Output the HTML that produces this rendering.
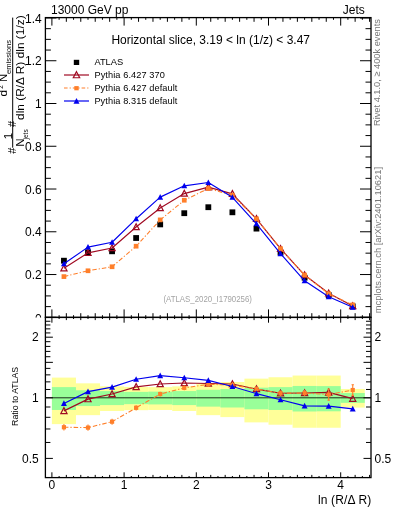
<!DOCTYPE html>
<html><head><meta charset="utf-8"><style>
html,body{margin:0;padding:0;background:#fff;}
svg{display:block;will-change:transform;}
text{font-family:"Liberation Sans",sans-serif;}
</style></head><body>
<svg width="393" height="512" viewBox="0 0 393 512">
<defs>
<clipPath id="cm"><rect x="45.4" y="17.6" width="325.60" height="299.80"/></clipPath>
<clipPath id="cr"><rect x="45.4" y="317.4" width="325.60" height="160.20"/></clipPath>
<clipPath id="ctop"><rect x="0" y="0" width="393" height="317.4"/></clipPath>
</defs>
<rect width="393" height="512" fill="#fff"/>
<g clip-path="url(#ctop)">
<text x="41.8" y="322.70" font-size="12" text-anchor="end">0</text>
<text x="41.8" y="279.14" font-size="12" text-anchor="end">0.2</text>
<text x="41.8" y="236.38" font-size="12" text-anchor="end">0.4</text>
<text x="41.8" y="193.62" font-size="12" text-anchor="end">0.6</text>
<text x="41.8" y="150.86" font-size="12" text-anchor="end">0.8</text>
<text x="41.8" y="108.10" font-size="12" text-anchor="end">1</text>
<text x="41.8" y="65.34" font-size="12" text-anchor="end">1.2</text>
<text x="41.8" y="22.58" font-size="12" text-anchor="end">1.4</text>
</g>
<text x="51" y="14.2" font-size="12">13000 GeV pp</text>
<text x="364.8" y="14.2" font-size="12" text-anchor="end">Jets</text>
<text x="111.4" y="43.8" font-size="12" textLength="198.6" lengthAdjust="spacingAndGlyphs">Horizontal slice, 3.19 &lt; ln (1/z) &lt; 3.47</text>
<!-- legend -->
<rect x="73.8" y="59.8" width="5.4" height="5.2" fill="#000"/>
<text x="94.4" y="64.9" font-size="9.3">ATLAS</text>
<line x1="64" y1="75.0" x2="89" y2="75.0" stroke="#a00a22" stroke-width="1.2"/>
<path d="M76.50,71.66 L79.70,77.74 L73.30,77.74 Z" fill="none" stroke="#a00a22" stroke-width="1.2"/>
<text x="94.4" y="77.7" font-size="9.2" textLength="70.5" lengthAdjust="spacing">Pythia 6.427 370</text>
<line x1="64" y1="88.0" x2="89" y2="88.0" stroke="#ff7f2a" stroke-width="1.1" stroke-dasharray="3.6 2 1.2 2"/>
<rect x="74.3" y="86.1" width="4.4" height="4.2" fill="#ff7f2a"/>
<text x="94.4" y="90.7" font-size="9.2" textLength="83.0" lengthAdjust="spacing">Pythia 6.427 default</text>
<line x1="64" y1="101.0" x2="89" y2="101.0" stroke="#0000ee" stroke-width="1.2"/>
<path d="M76.50,98.06 L79.50,103.77 L73.50,103.77 Z" fill="#0000ee"/>
<text x="94.4" y="103.7" font-size="9.2" textLength="83.0" lengthAdjust="spacing">Pythia 8.315 default</text>
<text x="163.4" y="301.6" font-size="8.6" fill="#a4a4a4" textLength="88.6" lengthAdjust="spacingAndGlyphs">(ATLAS_2020_I1790256)</text>
<!-- y title -->
<g transform="translate(24,120) rotate(-90)">
<text x="0" y="0" font-size="11.8" textLength="104.7" lengthAdjust="spacingAndGlyphs">dln (R/&#916; R) dln (1/z)</text>
</g>
<g transform="translate(7,96.4) rotate(-90)"><text x="0" y="0" font-size="11.8">d</text></g>
<g transform="translate(3.2,88.7) rotate(-90)"><text x="0" y="0" font-size="6.5">2</text></g>
<g transform="translate(7,81.9) rotate(-90)"><text x="0" y="0" font-size="11.3">N</text></g>
<g transform="translate(11.1,74) rotate(-90)"><text x="0" y="0" font-size="8" textLength="34" lengthAdjust="spacingAndGlyphs">emissions</text></g>
<line x1="12.7" y1="17.6" x2="12.7" y2="147.7" stroke="#000" stroke-width="1"/>
<g transform="translate(16.3,127) rotate(-90)"><text x="0" y="0" font-size="11" textLength="5">#</text></g>
<g transform="translate(16.3,153.8) rotate(-90)"><text x="0" y="0" font-size="11" textLength="5.1">#</text></g>
<g transform="translate(11.5,139.3) rotate(-90)"><text x="0" y="0" font-size="11.5">1</text></g>
<g transform="translate(24,146.8) rotate(-90)"><text x="0" y="0" font-size="11.5">N</text></g>
<g transform="translate(27.8,139.5) rotate(-90)"><text x="0" y="0" font-size="7" textLength="10.2" lengthAdjust="spacingAndGlyphs">jets</text></g>
<!-- right rotated -->
<g transform="translate(380.4,126) rotate(-90)"><text x="0" y="0" font-size="9.3" fill="#777" textLength="106.9" lengthAdjust="spacingAndGlyphs">Rivet 4.1.0, &#8805; 400k events</text></g>
<g transform="translate(380.8,313.2) rotate(-90)"><text x="0" y="0" font-size="9.3" fill="#777" textLength="146.2" lengthAdjust="spacingAndGlyphs">mcplots.cern.ch [arXiv:2401.10621]</text></g>
<rect x="45.4" y="317.4" width="325.60" height="160.20" fill="#fff"/>
<rect x="51.90" y="377.59" width="24.07" height="46.53" fill="#ffff99"/>
<rect x="75.97" y="383.33" width="24.07" height="31.82" fill="#ffff99"/>
<rect x="100.03" y="386.34" width="24.07" height="24.64" fill="#ffff99"/>
<rect x="124.10" y="386.96" width="24.07" height="23.22" fill="#ffff99"/>
<rect x="148.17" y="387.11" width="24.07" height="22.86" fill="#ffff99"/>
<rect x="172.23" y="386.34" width="24.07" height="24.64" fill="#ffff99"/>
<rect x="196.30" y="383.33" width="24.07" height="31.82" fill="#ffff99"/>
<rect x="220.37" y="382.01" width="24.07" height="35.08" fill="#ffff99"/>
<rect x="244.43" y="378.64" width="24.07" height="43.73" fill="#ffff99"/>
<rect x="268.50" y="377.25" width="24.07" height="47.47" fill="#ffff99"/>
<rect x="292.57" y="375.54" width="24.07" height="52.21" fill="#ffff99"/>
<rect x="316.63" y="375.54" width="24.07" height="52.21" fill="#ffff99"/>
<rect x="340.70" y="388.99" width="24.07" height="18.60" fill="#ffff99"/>
<rect x="51.90" y="387.11" width="24.07" height="22.86" fill="#99ff99"/>
<rect x="75.97" y="390.27" width="24.07" height="15.78" fill="#99ff99"/>
<rect x="100.03" y="391.07" width="24.07" height="14.02" fill="#99ff99"/>
<rect x="124.10" y="391.88" width="24.07" height="12.26" fill="#99ff99"/>
<rect x="148.17" y="391.64" width="24.07" height="12.79" fill="#99ff99"/>
<rect x="172.23" y="391.07" width="24.07" height="14.02" fill="#99ff99"/>
<rect x="196.30" y="389.79" width="24.07" height="16.84" fill="#99ff99"/>
<rect x="220.37" y="389.07" width="24.07" height="18.43" fill="#99ff99"/>
<rect x="244.43" y="387.66" width="24.07" height="21.62" fill="#99ff99"/>
<rect x="268.50" y="387.11" width="24.07" height="22.86" fill="#99ff99"/>
<rect x="292.57" y="385.96" width="24.07" height="25.53" fill="#99ff99"/>
<rect x="316.63" y="386.11" width="24.07" height="25.18" fill="#99ff99"/>
<rect x="340.70" y="393.04" width="24.07" height="9.80" fill="#99ff99"/>
<line x1="45.4" y1="397.80" x2="371.0" y2="397.80" stroke="#1a2e1a" stroke-width="1.0"/>
<g clip-path="url(#cr)">
<polyline points="63.93,410.88 88.00,399.12 112.07,394.04 136.13,386.88 160.20,384.00 184.27,383.03 208.33,383.48 232.40,384.00 256.47,389.07 280.53,393.20 304.60,393.04 328.67,392.38 352.73,398.68" fill="none" stroke="#a00a22" stroke-width="1.15" stroke-linejoin="round"/>
<path d="M63.93,407.64 L67.03,413.53 L60.83,413.53 Z" fill="none" stroke="#a00a22" stroke-width="1.2"/>
<path d="M88.00,395.88 L91.10,401.77 L84.90,401.77 Z" fill="none" stroke="#a00a22" stroke-width="1.2"/>
<path d="M112.07,390.80 L115.17,396.69 L108.97,396.69 Z" fill="none" stroke="#a00a22" stroke-width="1.2"/>
<path d="M136.13,383.64 L139.23,389.53 L133.03,389.53 Z" fill="none" stroke="#a00a22" stroke-width="1.2"/>
<path d="M160.20,380.76 L163.30,386.65 L157.10,386.65 Z" fill="none" stroke="#a00a22" stroke-width="1.2"/>
<path d="M184.27,379.79 L187.37,385.68 L181.17,385.68 Z" fill="none" stroke="#a00a22" stroke-width="1.2"/>
<path d="M208.33,380.24 L211.43,386.13 L205.23,386.13 Z" fill="none" stroke="#a00a22" stroke-width="1.2"/>
<path d="M232.40,380.76 L235.50,386.65 L229.30,386.65 Z" fill="none" stroke="#a00a22" stroke-width="1.2"/>
<path d="M256.47,385.83 L259.57,391.72 L253.37,391.72 Z" fill="none" stroke="#a00a22" stroke-width="1.2"/>
<path d="M280.53,389.96 L283.63,395.85 L277.43,395.85 Z" fill="none" stroke="#a00a22" stroke-width="1.2"/>
<path d="M304.60,389.80 L307.70,395.69 L301.50,395.69 Z" fill="none" stroke="#a00a22" stroke-width="1.2"/>
<path d="M328.67,389.14 L331.77,395.03 L325.57,395.03 Z" fill="none" stroke="#a00a22" stroke-width="1.2"/>
<path d="M352.73,395.44 L355.83,401.33 L349.63,401.33 Z" fill="none" stroke="#a00a22" stroke-width="1.2"/>
<polyline points="63.93,427.25 88.00,427.62 112.07,421.68 136.13,407.79 160.20,394.04 184.27,387.89 208.33,384.37 232.40,384.97 256.47,389.07 280.53,393.20 304.60,393.04 328.67,394.54 352.73,390.03" fill="none" stroke="#ff7f2a" stroke-width="1.1" stroke-dasharray="4.5 2 1.2 2" stroke-linejoin="round"/>
<path d="M63.93,424.05V430.45" stroke="#ff7f2a" stroke-width="1.1"/>
<rect x="61.83" y="425.15" width="4.20" height="4.20" fill="#ff7f2a"/>
<path d="M88.00,424.42V430.82" stroke="#ff7f2a" stroke-width="1.1"/>
<rect x="85.90" y="425.52" width="4.20" height="4.20" fill="#ff7f2a"/>
<path d="M112.07,418.68V424.68" stroke="#ff7f2a" stroke-width="1.1"/>
<rect x="109.97" y="419.58" width="4.20" height="4.20" fill="#ff7f2a"/>
<path d="M136.13,405.19V410.39" stroke="#ff7f2a" stroke-width="1.1"/>
<rect x="134.03" y="405.69" width="4.20" height="4.20" fill="#ff7f2a"/>
<path d="M160.20,391.64V396.44" stroke="#ff7f2a" stroke-width="1.1"/>
<rect x="158.10" y="391.94" width="4.20" height="4.20" fill="#ff7f2a"/>
<path d="M184.27,385.49V390.29" stroke="#ff7f2a" stroke-width="1.1"/>
<rect x="182.17" y="385.79" width="4.20" height="4.20" fill="#ff7f2a"/>
<path d="M208.33,381.97V386.77" stroke="#ff7f2a" stroke-width="1.1"/>
<rect x="206.23" y="382.27" width="4.20" height="4.20" fill="#ff7f2a"/>
<path d="M232.40,382.47V387.47" stroke="#ff7f2a" stroke-width="1.1"/>
<rect x="230.30" y="382.87" width="4.20" height="4.20" fill="#ff7f2a"/>
<path d="M256.47,386.47V391.67" stroke="#ff7f2a" stroke-width="1.1"/>
<rect x="254.37" y="386.97" width="4.20" height="4.20" fill="#ff7f2a"/>
<path d="M280.53,390.40V396.00" stroke="#ff7f2a" stroke-width="1.1"/>
<rect x="278.43" y="391.10" width="4.20" height="4.20" fill="#ff7f2a"/>
<path d="M304.60,389.84V396.24" stroke="#ff7f2a" stroke-width="1.1"/>
<rect x="302.50" y="390.94" width="4.20" height="4.20" fill="#ff7f2a"/>
<path d="M328.67,388.94V400.14" stroke="#ff7f2a" stroke-width="1.1"/>
<path d="M327.47,388.94h2.4M327.47,400.14h2.4" stroke="#ff7f2a" stroke-width="1.1"/>
<rect x="326.57" y="392.44" width="4.20" height="4.20" fill="#ff7f2a"/>
<path d="M352.73,384.73V395.33" stroke="#ff7f2a" stroke-width="1.1"/>
<path d="M351.53,384.73h2.4M351.53,395.33h2.4" stroke="#ff7f2a" stroke-width="1.1"/>
<rect x="350.63" y="387.93" width="4.20" height="4.20" fill="#ff7f2a"/>
<polyline points="63.93,403.40 88.00,391.64 112.07,387.11 136.13,379.28 160.20,375.67 184.27,377.73 208.33,380.42 232.40,386.50 256.47,393.62 280.53,399.74 304.60,405.85 328.67,406.14 352.73,408.88" fill="none" stroke="#0000ee" stroke-width="1.15" stroke-linejoin="round"/>
<path d="M63.93,400.31 L66.88,405.92 L60.98,405.92 Z" fill="#0000ee"/>
<path d="M88.00,388.56 L90.95,394.16 L85.05,394.16 Z" fill="#0000ee"/>
<path d="M112.07,384.03 L115.02,389.64 L109.12,389.64 Z" fill="#0000ee"/>
<path d="M136.13,376.19 L139.08,381.80 L133.18,381.80 Z" fill="#0000ee"/>
<path d="M160.20,372.59 L163.15,378.20 L157.25,378.20 Z" fill="#0000ee"/>
<path d="M184.27,374.65 L187.22,380.26 L181.32,380.26 Z" fill="#0000ee"/>
<path d="M208.33,377.33 L211.28,382.94 L205.38,382.94 Z" fill="#0000ee"/>
<path d="M232.40,383.42 L235.35,389.02 L229.45,389.02 Z" fill="#0000ee"/>
<path d="M256.47,390.53 L259.42,396.14 L253.52,396.14 Z" fill="#0000ee"/>
<path d="M280.53,396.66 L283.48,402.27 L277.58,402.27 Z" fill="#0000ee"/>
<path d="M304.60,402.77 L307.55,408.38 L301.65,408.38 Z" fill="#0000ee"/>
<path d="M328.67,403.06 L331.62,408.66 L325.72,408.66 Z" fill="#0000ee"/>
<path d="M352.73,405.79 L355.68,411.40 L349.78,411.40 Z" fill="#0000ee"/>
</g>
<g clip-path="url(#cm)">
<rect x="61.03" y="257.80" width="5.80" height="5.80" fill="#000"/>
<rect x="85.10" y="249.38" width="5.80" height="5.80" fill="#000"/>
<rect x="109.17" y="248.39" width="5.80" height="5.80" fill="#000"/>
<rect x="133.23" y="235.10" width="5.80" height="5.80" fill="#000"/>
<rect x="157.30" y="221.50" width="5.80" height="5.80" fill="#000"/>
<rect x="181.37" y="210.29" width="5.80" height="5.80" fill="#000"/>
<rect x="205.43" y="204.31" width="5.80" height="5.80" fill="#000"/>
<rect x="229.50" y="209.40" width="5.80" height="5.80" fill="#000"/>
<rect x="253.57" y="225.71" width="5.80" height="5.80" fill="#000"/>
<rect x="277.63" y="249.70" width="5.80" height="5.80" fill="#000"/>
<rect x="301.70" y="274.82" width="5.80" height="5.80" fill="#000"/>
<rect x="325.77" y="292.14" width="5.80" height="5.80" fill="#000"/>
<rect x="349.83" y="303.47" width="5.80" height="5.80" fill="#000"/>
<polyline points="63.93,268.22 88.00,252.86 112.07,247.97 136.13,226.99 160.20,208.04 184.27,193.57 208.33,187.14 232.40,193.87 256.47,218.86 280.53,248.68 304.60,275.08 328.67,293.19 352.73,306.08" fill="none" stroke="#a00a22" stroke-width="1.15" stroke-linejoin="round"/>
<path d="M63.93,264.98 L67.03,270.87 L60.83,270.87 Z" fill="none" stroke="#a00a22" stroke-width="1.2"/>
<path d="M88.00,249.62 L91.10,255.51 L84.90,255.51 Z" fill="none" stroke="#a00a22" stroke-width="1.2"/>
<path d="M112.07,244.73 L115.17,250.62 L108.97,250.62 Z" fill="none" stroke="#a00a22" stroke-width="1.2"/>
<path d="M136.13,223.76 L139.23,229.65 L133.03,229.65 Z" fill="none" stroke="#a00a22" stroke-width="1.2"/>
<path d="M160.20,204.80 L163.30,210.69 L157.10,210.69 Z" fill="none" stroke="#a00a22" stroke-width="1.2"/>
<path d="M184.27,190.33 L187.37,196.22 L181.17,196.22 Z" fill="none" stroke="#a00a22" stroke-width="1.2"/>
<path d="M208.33,183.90 L211.43,189.79 L205.23,189.79 Z" fill="none" stroke="#a00a22" stroke-width="1.2"/>
<path d="M232.40,190.63 L235.50,196.52 L229.30,196.52 Z" fill="none" stroke="#a00a22" stroke-width="1.2"/>
<path d="M256.47,215.62 L259.57,221.51 L253.37,221.51 Z" fill="none" stroke="#a00a22" stroke-width="1.2"/>
<path d="M280.53,245.44 L283.63,251.33 L277.43,251.33 Z" fill="none" stroke="#a00a22" stroke-width="1.2"/>
<path d="M304.60,271.84 L307.70,277.73 L301.50,277.73 Z" fill="none" stroke="#a00a22" stroke-width="1.2"/>
<path d="M328.67,289.95 L331.77,295.84 L325.57,295.84 Z" fill="none" stroke="#a00a22" stroke-width="1.2"/>
<path d="M352.73,302.84 L355.83,308.73 L349.63,308.73 Z" fill="none" stroke="#a00a22" stroke-width="1.2"/>
<polyline points="63.93,276.60 88.00,270.78 112.07,266.76 136.13,246.20 160.20,219.89 184.27,200.25 208.33,188.47 232.40,195.24 256.47,218.86 280.53,248.68 304.60,275.08 328.67,293.78 352.73,304.91" fill="none" stroke="#ff7f2a" stroke-width="1.1" stroke-dasharray="4.5 2 1.2 2" stroke-linejoin="round"/>
<rect x="61.58" y="274.25" width="4.70" height="4.70" fill="#ff7f2a"/>
<rect x="85.65" y="268.43" width="4.70" height="4.70" fill="#ff7f2a"/>
<rect x="109.72" y="264.41" width="4.70" height="4.70" fill="#ff7f2a"/>
<rect x="133.78" y="243.85" width="4.70" height="4.70" fill="#ff7f2a"/>
<rect x="157.85" y="217.54" width="4.70" height="4.70" fill="#ff7f2a"/>
<rect x="181.92" y="197.90" width="4.70" height="4.70" fill="#ff7f2a"/>
<rect x="205.98" y="186.12" width="4.70" height="4.70" fill="#ff7f2a"/>
<rect x="230.05" y="192.89" width="4.70" height="4.70" fill="#ff7f2a"/>
<rect x="254.12" y="216.51" width="4.70" height="4.70" fill="#ff7f2a"/>
<rect x="278.18" y="246.33" width="4.70" height="4.70" fill="#ff7f2a"/>
<rect x="302.25" y="272.73" width="4.70" height="4.70" fill="#ff7f2a"/>
<rect x="326.32" y="291.43" width="4.70" height="4.70" fill="#ff7f2a"/>
<rect x="350.38" y="302.56" width="4.70" height="4.70" fill="#ff7f2a"/>
<polyline points="63.93,263.83 88.00,247.10 112.07,242.26 136.13,218.79 160.20,197.13 184.27,185.83 208.33,182.50 232.40,197.35 256.47,223.84 280.53,253.63 304.60,280.84 328.67,296.70 352.73,307.32" fill="none" stroke="#0000ee" stroke-width="1.15" stroke-linejoin="round"/>
<path d="M63.93,260.75 L66.88,266.36 L60.98,266.36 Z" fill="#0000ee"/>
<path d="M88.00,244.02 L90.95,249.62 L85.05,249.62 Z" fill="#0000ee"/>
<path d="M112.07,239.18 L115.02,244.78 L109.12,244.78 Z" fill="#0000ee"/>
<path d="M136.13,215.70 L139.08,221.31 L133.18,221.31 Z" fill="#0000ee"/>
<path d="M160.20,194.04 L163.15,199.65 L157.25,199.65 Z" fill="#0000ee"/>
<path d="M184.27,182.75 L187.22,188.35 L181.32,188.35 Z" fill="#0000ee"/>
<path d="M208.33,179.42 L211.28,185.02 L205.38,185.02 Z" fill="#0000ee"/>
<path d="M232.40,194.27 L235.35,199.87 L229.45,199.87 Z" fill="#0000ee"/>
<path d="M256.47,220.76 L259.42,226.37 L253.52,226.37 Z" fill="#0000ee"/>
<path d="M280.53,250.55 L283.48,256.15 L277.58,256.15 Z" fill="#0000ee"/>
<path d="M304.60,277.75 L307.55,283.36 L301.65,283.36 Z" fill="#0000ee"/>
<path d="M328.67,293.62 L331.62,299.22 L325.72,299.22 Z" fill="#0000ee"/>
<path d="M352.73,304.23 L355.68,309.84 L349.78,309.84 Z" fill="#0000ee"/>
</g>
<path d="M45.4,317.30h11M371.0,317.30h-11M45.4,306.61h5.5M371.0,306.61h-5.5M45.4,295.92h5.5M371.0,295.92h-5.5M45.4,285.23h5.5M371.0,285.23h-5.5M45.4,274.54h11M371.0,274.54h-11M45.4,263.85h5.5M371.0,263.85h-5.5M45.4,253.16h5.5M371.0,253.16h-5.5M45.4,242.47h5.5M371.0,242.47h-5.5M45.4,231.78h11M371.0,231.78h-11M45.4,221.09h5.5M371.0,221.09h-5.5M45.4,210.40h5.5M371.0,210.40h-5.5M45.4,199.71h5.5M371.0,199.71h-5.5M45.4,189.02h11M371.0,189.02h-11M45.4,178.33h5.5M371.0,178.33h-5.5M45.4,167.64h5.5M371.0,167.64h-5.5M45.4,156.95h5.5M371.0,156.95h-5.5M45.4,146.26h11M371.0,146.26h-11M45.4,135.57h5.5M371.0,135.57h-5.5M45.4,124.88h5.5M371.0,124.88h-5.5M45.4,114.19h5.5M371.0,114.19h-5.5M45.4,103.50h11M371.0,103.50h-11M45.4,92.81h5.5M371.0,92.81h-5.5M45.4,82.12h5.5M371.0,82.12h-5.5M45.4,71.43h5.5M371.0,71.43h-5.5M45.4,60.74h11M371.0,60.74h-11M45.4,50.05h5.5M371.0,50.05h-5.5M45.4,39.36h5.5M371.0,39.36h-5.5M45.4,28.67h5.5M371.0,28.67h-5.5M45.4,17.98h11M371.0,17.98h-11M51.90,17.6v8M51.90,317.4v-8M59.12,17.6v2.2M59.12,317.4v-2.2M66.34,17.6v4.2M66.34,317.4v-4.2M73.56,17.6v2.2M73.56,317.4v-2.2M80.78,17.6v4.2M80.78,317.4v-4.2M88.00,17.6v2.2M88.00,317.4v-2.2M95.22,17.6v4.2M95.22,317.4v-4.2M102.44,17.6v2.2M102.44,317.4v-2.2M109.66,17.6v4.2M109.66,317.4v-4.2M116.88,17.6v2.2M116.88,317.4v-2.2M124.10,17.6v8M124.10,317.4v-8M131.32,17.6v2.2M131.32,317.4v-2.2M138.54,17.6v4.2M138.54,317.4v-4.2M145.76,17.6v2.2M145.76,317.4v-2.2M152.98,17.6v4.2M152.98,317.4v-4.2M160.20,17.6v2.2M160.20,317.4v-2.2M167.42,17.6v4.2M167.42,317.4v-4.2M174.64,17.6v2.2M174.64,317.4v-2.2M181.86,17.6v4.2M181.86,317.4v-4.2M189.08,17.6v2.2M189.08,317.4v-2.2M196.30,17.6v8M196.30,317.4v-8M203.52,17.6v2.2M203.52,317.4v-2.2M210.74,17.6v4.2M210.74,317.4v-4.2M217.96,17.6v2.2M217.96,317.4v-2.2M225.18,17.6v4.2M225.18,317.4v-4.2M232.40,17.6v2.2M232.40,317.4v-2.2M239.62,17.6v4.2M239.62,317.4v-4.2M246.84,17.6v2.2M246.84,317.4v-2.2M254.06,17.6v4.2M254.06,317.4v-4.2M261.28,17.6v2.2M261.28,317.4v-2.2M268.50,17.6v8M268.50,317.4v-8M275.72,17.6v2.2M275.72,317.4v-2.2M282.94,17.6v4.2M282.94,317.4v-4.2M290.16,17.6v2.2M290.16,317.4v-2.2M297.38,17.6v4.2M297.38,317.4v-4.2M304.60,17.6v2.2M304.60,317.4v-2.2M311.82,17.6v4.2M311.82,317.4v-4.2M319.04,17.6v2.2M319.04,317.4v-2.2M326.26,17.6v4.2M326.26,317.4v-4.2M333.48,17.6v2.2M333.48,317.4v-2.2M340.70,17.6v8M340.70,317.4v-8M347.92,17.6v2.2M347.92,317.4v-2.2M355.14,17.6v4.2M355.14,317.4v-4.2M362.36,17.6v2.2M362.36,317.4v-2.2M369.58,17.6v4.2M369.58,317.4v-4.2M51.90,317.4v5.3M51.90,477.6v-5.3M59.12,317.4v1.6M59.12,477.6v-1.6M66.34,317.4v2.7M66.34,477.6v-2.7M73.56,317.4v1.6M73.56,477.6v-1.6M80.78,317.4v2.7M80.78,477.6v-2.7M88.00,317.4v1.6M88.00,477.6v-1.6M95.22,317.4v2.7M95.22,477.6v-2.7M102.44,317.4v1.6M102.44,477.6v-1.6M109.66,317.4v2.7M109.66,477.6v-2.7M116.88,317.4v1.6M116.88,477.6v-1.6M124.10,317.4v5.3M124.10,477.6v-5.3M131.32,317.4v1.6M131.32,477.6v-1.6M138.54,317.4v2.7M138.54,477.6v-2.7M145.76,317.4v1.6M145.76,477.6v-1.6M152.98,317.4v2.7M152.98,477.6v-2.7M160.20,317.4v1.6M160.20,477.6v-1.6M167.42,317.4v2.7M167.42,477.6v-2.7M174.64,317.4v1.6M174.64,477.6v-1.6M181.86,317.4v2.7M181.86,477.6v-2.7M189.08,317.4v1.6M189.08,477.6v-1.6M196.30,317.4v5.3M196.30,477.6v-5.3M203.52,317.4v1.6M203.52,477.6v-1.6M210.74,317.4v2.7M210.74,477.6v-2.7M217.96,317.4v1.6M217.96,477.6v-1.6M225.18,317.4v2.7M225.18,477.6v-2.7M232.40,317.4v1.6M232.40,477.6v-1.6M239.62,317.4v2.7M239.62,477.6v-2.7M246.84,317.4v1.6M246.84,477.6v-1.6M254.06,317.4v2.7M254.06,477.6v-2.7M261.28,317.4v1.6M261.28,477.6v-1.6M268.50,317.4v5.3M268.50,477.6v-5.3M275.72,317.4v1.6M275.72,477.6v-1.6M282.94,317.4v2.7M282.94,477.6v-2.7M290.16,317.4v1.6M290.16,477.6v-1.6M297.38,317.4v2.7M297.38,477.6v-2.7M304.60,317.4v1.6M304.60,477.6v-1.6M311.82,317.4v2.7M311.82,477.6v-2.7M319.04,317.4v1.6M319.04,477.6v-1.6M326.26,317.4v2.7M326.26,477.6v-2.7M333.48,317.4v1.6M333.48,477.6v-1.6M340.70,317.4v5.3M340.70,477.6v-5.3M347.92,317.4v1.6M347.92,477.6v-1.6M355.14,317.4v2.7M355.14,477.6v-2.7M362.36,317.4v1.6M362.36,477.6v-1.6M369.58,317.4v2.7M369.58,477.6v-2.7M45.4,458.40h7.5M371.0,458.40h-7.5M45.4,442.46h5M371.0,442.46h-5M45.4,428.98h5M371.0,428.98h-5M45.4,417.31h5M371.0,417.31h-5M45.4,407.01h5M371.0,407.01h-5M45.4,397.80h7.5M371.0,397.80h-7.5M45.4,389.47h5M371.0,389.47h-5M45.4,381.86h5M371.0,381.86h-5M45.4,374.86h5M371.0,374.86h-5M45.4,368.38h5M371.0,368.38h-5M45.4,362.35h7.5M371.0,362.35h-7.5M45.4,356.71h5M371.0,356.71h-5M45.4,351.41h5M371.0,351.41h-5M45.4,346.41h5M371.0,346.41h-5M45.4,341.68h5M371.0,341.68h-5M45.4,337.20h7.5M371.0,337.20h-7.5M45.4,332.93h5M371.0,332.93h-5M45.4,328.87h5M371.0,328.87h-5M45.4,324.98h5M371.0,324.98h-5M45.4,321.26h5M371.0,321.26h-5" stroke="#000" stroke-width="1" fill="none"/>
<rect x="45.4" y="17.6" width="325.60" height="299.80" fill="none" stroke="#000" stroke-width="1.3"/>
<rect x="45.4" y="317.4" width="325.60" height="160.20" fill="none" stroke="#000" stroke-width="1.3"/>
<text x="38.8" y="462.50" font-size="12" text-anchor="end">0.5</text>
<text x="374.5" y="462.50" font-size="12">0.5</text>
<text x="38.8" y="401.90" font-size="12" text-anchor="end">1</text>
<text x="374.5" y="401.90" font-size="12">1</text>
<text x="38.8" y="341.30" font-size="12" text-anchor="end">2</text>
<text x="374.5" y="341.30" font-size="12">2</text>
<text x="51.90" y="489" font-size="12" text-anchor="middle">0</text>
<text x="124.10" y="489" font-size="12" text-anchor="middle">1</text>
<text x="196.30" y="489" font-size="12" text-anchor="middle">2</text>
<text x="268.50" y="489" font-size="12" text-anchor="middle">3</text>
<text x="340.70" y="489" font-size="12" text-anchor="middle">4</text>
<g transform="translate(18.4,425.9) rotate(-90)"><text x="0" y="0" font-size="8.8" textLength="59.1" lengthAdjust="spacingAndGlyphs">Ratio to ATLAS</text></g>
<text x="317.9" y="504.2" font-size="12" textLength="53.3" lengthAdjust="spacing">ln (R/&#916; R)</text>
</svg>
</body></html>
